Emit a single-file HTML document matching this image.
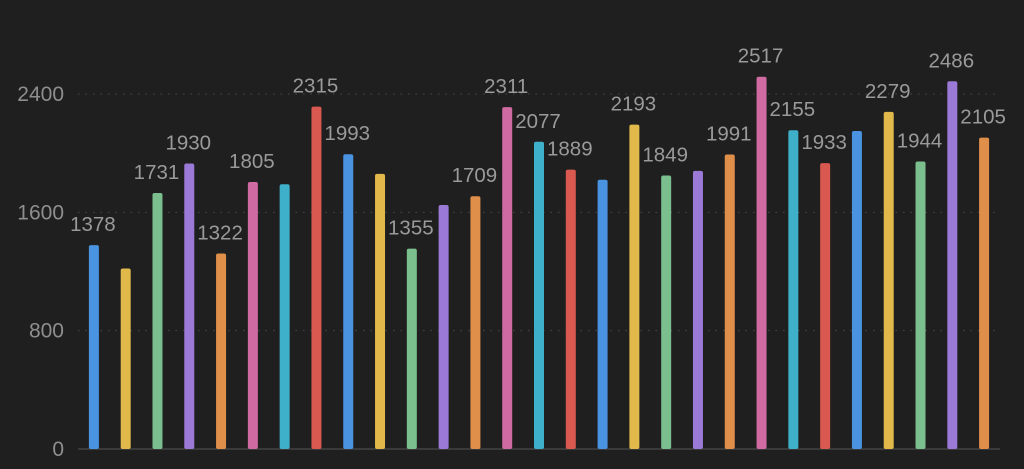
<!DOCTYPE html>
<html><head><meta charset="utf-8"><style>
html,body{margin:0;padding:0;background:#1f1f1f;}
svg{display:block;font-family:"Liberation Sans",sans-serif;}
</style></head><body>
<svg id="chart" width="1024" height="469" xmlns="http://www.w3.org/2000/svg">
<rect width="1024" height="469" fill="#1f1f1f"/>
<g id="grid"></g>
<g id="yaxis"></g>
<g id="bars"></g>
<g id="labels"></g>
</svg>
<script>
const values = [1378,1220,1731,1930,1322,1805,1790,2315,1993,1860,1355,1650,1709,2311,2077,1889,1820,2193,1849,1880,1991,2517,2155,1933,2150,2279,1944,2486,2105];
const showLabel = [1,0,1,1,1,1,0,1,1,0,1,0,1,1,1,1,0,1,1,0,1,1,1,1,0,1,1,1,1];
const yTicks = [0,800,1600,2400];
const palette = ['#4a93e0','#e0b94a','#7bbf8e','#9b79d6','#e08f4a','#d06aa3','#3fb0c9','#d9584f'];
const NS='http://www.w3.org/2000/svg';
const x0=78,x1=1000,yBase=449,yTop=94,yMax=2400;
const band=(x1-x0)/values.length;
function xs(i){return x0+band*(i+0.5);}
function ys(v){return yBase-(v/yMax)*(yBase-yTop);}
function mk(tag,attrs,parent){const e=document.createElementNS(NS,tag);for(const k in attrs)e.setAttribute(k,attrs[k]);parent.appendChild(e);return e;}
const grid=document.getElementById('grid'),yaxis=document.getElementById('yaxis'),bars=document.getElementById('bars'),labels=document.getElementById('labels');
yTicks.forEach(t=>{
  const y=ys(t);
  if(t===0){
    const l=mk('line',{x1:x0,x2:x1,y1:y,y2:y,stroke:'#444','stroke-width':1.5},grid);
    
    
  } else {
    const l=mk('line',{x1:x0,x2:x1,y1:y,y2:y,stroke:'#4a4a4a','stroke-width':1,'stroke-dasharray':'1.5 6'},grid);
    
    
  }
  const tx=mk('text',{x:64,y:y+7,'text-anchor':'end',fill:'#8e8e8e','font-size':21},yaxis);
  tx.textContent=t;
  
  
});
values.forEach((v,i)=>{
  const cx=xs(i),w=10,top=ys(v);
  const r=mk('rect',{x:cx-w/2,y:top,width:w,height:yBase-top,rx:2,fill:palette[i%palette.length]},bars);
  
  
  if(showLabel[i]){
    const t=mk('text',{x:cx-1,y:top-14,'text-anchor':'middle',fill:'#9a9a9a','font-size':20.5},labels);
    t.textContent=v;
    
    
  }
});
</script>
</body></html>
